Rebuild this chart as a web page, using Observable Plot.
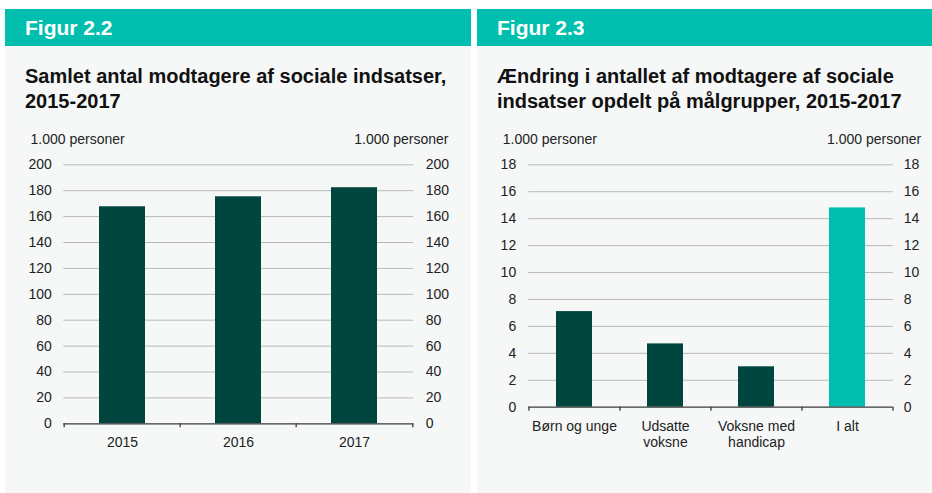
<!DOCTYPE html>
<html>
<head>
<meta charset="utf-8">
<script src="https://cdn.jsdelivr.net/npm/d3@7"></script>
<script src="https://cdn.jsdelivr.net/npm/@observablehq/plot@0.6"></script>
<style>
  html, body { margin: 0; padding: 0; background: #ffffff; width: 932px; height: 493px; overflow: hidden; }
  body { font-family: "Liberation Sans", Arial, sans-serif; position: relative; }
  .panel { position: absolute; top: 9px; height: 484px; background: #f6f8f8; overflow: hidden; }
  .head { position: absolute; left: 0; top: 0; right: 0; height: 37px; background: #00bfae; color: #fff;
          font-weight: bold; font-size: 21px; line-height: 37px; padding-left: 20px; box-sizing: border-box; }
  .title { position: absolute; top: 55px; left: 20px; font-weight: bold; font-size: 20px; line-height: 25px; color: #111; white-space: nowrap; }
  .chart { position: absolute; top: 121px; left: 0; }
</style>
</head>
<body>
<div class="panel" id="p1" style="left:5px;width:466px;">
  <div class="head">Figur 2.2</div>
  <div class="title">Samlet antal modtagere af sociale indsatser,<br>2015-2017</div>
  <div class="chart" id="c1"></div>
</div>
<div class="panel" id="p2" style="left:477px;width:455px;">
  <div class="head">Figur 2.3</div>
  <div class="title">Ændring i antallet af modtagere af sociale<br>indsatser opdelt på målgrupper, 2015-2017</div>
  <div class="chart" id="c2"></div>
</div>
<script>
// ---- data ----
const years = ["2015", "2016", "2017"];
const totals = [167.6, 175.3, 182.3];
const totalTicks = [0, 20, 40, 60, 80, 100, 120, 140, 160, 180, 200];

const groups = ["Børn og unge", "Udsatte\nvoksne", "Voksne med\nhandicap", "I alt"];
const changes = [7.1, 4.7, 3.0, 14.8];
const changeTicks = [0, 2, 4, 6, 8, 10, 12, 14, 16, 18];

const unitLabel = "1.000 personer";

// ---- styles ----
const DARK = "#00463e";
const TEAL = "#00bfae";
const GRID = "#b8b8b8";
const AXIS = "#3a3a3a";
const TEXT = "#222222";

function makeChart(cfg) {
  const {cats, vals, ticks, domain, width, height, ml, mr, mt, mb, padL, padR, unitL, unitR, colorFn} = cfg;
  const data = cats.map((c, i) => ({cat: c, value: vals[i]}));
  const plotW = width - ml - mr;
  const plotH = height - mt - mb;
  const step = plotW / cats.length;
  return Plot.plot({
    width, height,
    marginLeft: ml, marginRight: mr, marginTop: mt, marginBottom: mb,
    style: {background: "transparent", fontFamily: "Liberation Sans, Arial, sans-serif", fontSize: "14px", color: TEXT, overflow: "visible"},
    x: {domain: cats, paddingInner: 0.6, paddingOuter: 0.3, axis: null},
    y: {domain, axis: null},
    marks: [
      Plot.gridY(ticks.filter(t => t > 0), {stroke: GRID, strokeOpacity: 1, strokeWidth: 1}),
      Plot.barY(data, {x: "cat", y: "value", fill: d => colorFn(d.cat)}),
      Plot.ruleY([0], {stroke: AXIS, strokeWidth: 1.3}),
      // small tick marks at the category boundaries below the axis
      Plot.ruleX(cats, {x: d => d, dx: -step / 2, insetTop: plotH, insetBottom: -4, stroke: AXIS, strokeWidth: 1.3}),
      Plot.ruleX(cats.slice(-1), {x: d => d, dx: step / 2, insetTop: plotH, insetBottom: -4, stroke: AXIS, strokeWidth: 1.3}),
      Plot.axisX({anchor: "bottom", tickSize: 0, tickPadding: 12, label: null, lineHeight: 1.15, fill: TEXT, fontSize: 14}),
      Plot.axisY({anchor: "left", ticks, tickSize: 0, tickPadding: padL, label: null, fill: TEXT, fontSize: 14}),
      Plot.axisY({anchor: "right", ticks, tickSize: 0, tickPadding: padR, label: null, fill: TEXT, fontSize: 14}),
      Plot.text([unitLabel], {frameAnchor: "top-left", textAnchor: "start", lineAnchor: "middle", dx: unitL - ml, dy: 9 - mt, fill: TEXT, fontSize: 14}),
      Plot.text([unitLabel], {frameAnchor: "top-right", textAnchor: "end", lineAnchor: "middle", dx: unitR - (width - mr), dy: 9 - mt, fill: TEXT, fontSize: 14})
    ]
  });
}

document.getElementById("c1").append(makeChart({
  cats: years, vals: totals, ticks: totalTicks, domain: [0, 200],
  width: 466, height: 340, ml: 58.3, mr: 57.7, mt: 34.3, mb: 46.7,
  padL: 12, padR: 12, unitL: 25, unitR: 443,
  colorFn: () => DARK
}));

document.getElementById("c2").append(makeChart({
  cats: groups, vals: changes, ticks: changeTicks, domain: [0, 18],
  width: 455, height: 360, ml: 51.3, mr: 39.3, mt: 34.3, mb: 83.3,
  padL: 12.6, padR: 10.6, unitL: 25.3, unitR: 443.7,
  colorFn: c => c === "I alt" ? TEAL : DARK
}));
</script>
</body>
</html>
